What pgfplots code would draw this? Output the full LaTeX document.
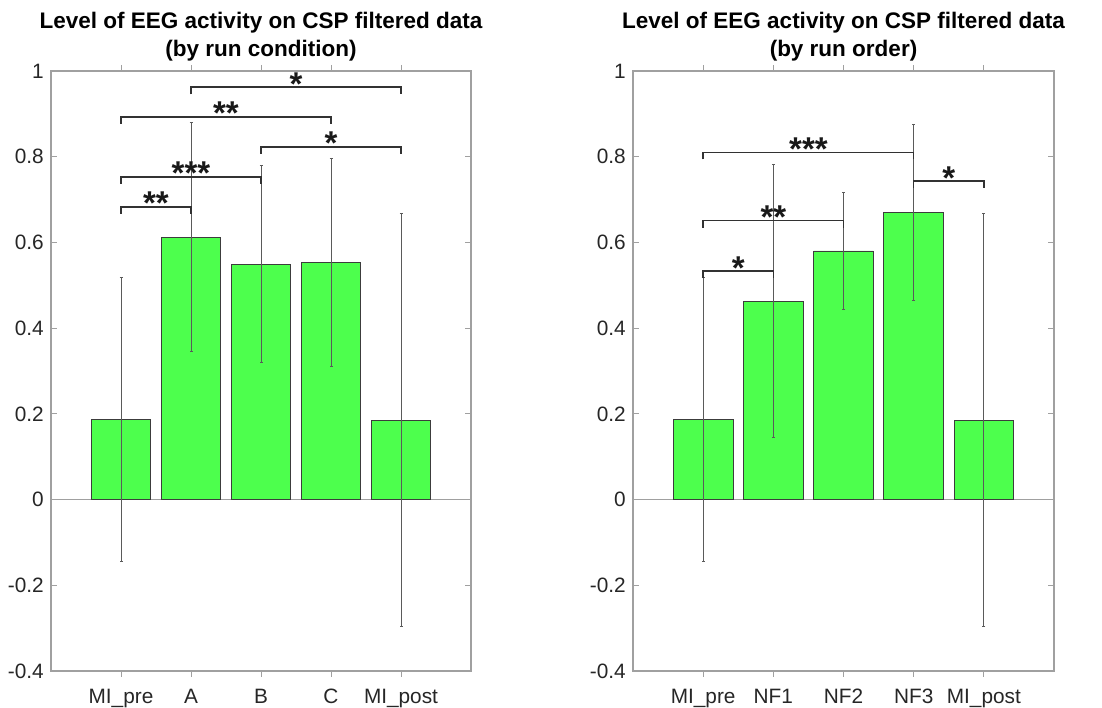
\documentclass[border=0pt]{standalone}
\usepackage{fontspec}
\setmainfont{Liberation Sans}
\usepackage{pgfplots}
\pgfplotsset{compat=1.18}
\definecolor{barg}{RGB}{77,255,77}
\definecolor{axg}{RGB}{160,160,160}
\definecolor{edg}{RGB}{60,60,60}
\definecolor{errg}{RGB}{90,90,90}
\definecolor{brk}{RGB}{50,50,50}
\pgfplotsset{
  myaxis/.style={
    scale only axis, width=420pt, height=600pt,
    xmin=0, xmax=6, ymin=-0.4, ymax=1,
    clip=false,
    axis line style={axg, line width=1.4pt},
    tick style={axg, line width=1pt},
    major tick length=6pt,
    tick align=inside,
    xtick={1,2,3,4,5},
    ytick={-0.4,-0.2,0,0.2,0.4,0.6,0.8,1},
    yticklabels={-0.4,-0.2,0,0.2,0.4,0.6,0.8,1},
    ticklabel style={font=\fontsize{20.8}{24}\selectfont, text=black!85},
    yticklabel style={inner sep=0pt, xshift=-7pt},
    xticklabel style={inner sep=0pt, yshift=-12pt},
    ybar, bar width=0.85, bar shift=0pt,
  },
  mybar/.style={fill=barg, draw=edg, line width=0.8pt,
    error bars/.cd, y dir=both, y explicit,
    error bar style={errg, line width=0.9pt},
    error mark options={rotate=90, mark size=1.5pt, errg, line width=0.8pt}},
}
\newcommand{\sigbrack}[3]{%
  \draw[brk, line width=1.6pt] ([yshift=-7pt]axis cs:#1,#3) -- (axis cs:#1,#3) -- (axis cs:#2,#3) -- ([yshift=-7pt]axis cs:#2,#3);}
\newcommand{\sigstars}[3]{%
  \node[anchor=base, inner sep=0pt, yshift=-8pt, font=\fontsize{33}{33}\selectfont\bfseries, text=black!90] at (axis cs:#1,#2) {#3};}
\newcommand{\ttl}{\fontsize{22.5}{24}\selectfont\bfseries}
\begin{document}
\begin{tikzpicture}
\path (0,0) rectangle (1102pt,704pt);
% left
\begin{axis}[myaxis, name=L, at={(51pt,33pt)}, anchor=south west,
  xticklabels={MI\_pre, A, B, C, MI\_post}]
\draw[axg, line width=1pt] (axis cs:0,0) -- (axis cs:6,0);
\addplot[mybar] coordinates {
  (1,0.187) +- (0,0.331)
  (2,0.612) +- (0,0.267)
  (3,0.549) +- (0,0.230)
  (4,0.554) +- (0,0.243)
  (5,0.185) +- (0,0.482)
};
\sigbrack{1}{2}{0.683}\sigstars{1.5}{0.683}{**}
\sigbrack{1}{3}{0.753}\sigstars{2}{0.753}{***}
\sigbrack{1}{4}{0.893}\sigstars{2.5}{0.893}{**}
\sigbrack{2}{5}{0.962}\sigstars{3.5}{0.962}{*}
\sigbrack{3}{5}{0.823}\sigstars{4}{0.823}{*}
\end{axis}
\node[anchor=base, inner sep=0pt, font=\ttl] at ([yshift=42.7pt]L.north) {Level of EEG activity on CSP filtered data};
\node[anchor=base, inner sep=0pt, font=\ttl] at ([yshift=14pt]L.north) {(by run condition)};
% right
\begin{axis}[myaxis, name=R, at={(633pt,33pt)}, anchor=south west, width=421pt,
  xticklabels={MI\_pre, NF1, NF2, NF3, MI\_post}]
\draw[axg, line width=1pt] (axis cs:0,0) -- (axis cs:6,0);
\addplot[mybar] coordinates {
  (1,0.187) +- (0,0.331)
  (2,0.463) +- (0,0.318)
  (3,0.580) +- (0,0.136)
  (4,0.670) +- (0,0.206)
  (5,0.185) +- (0,0.482)
};
\sigbrack{1}{2}{0.533}\sigstars{1.5}{0.533}{*}
\sigbrack{1}{3}{0.651}\sigstars{2}{0.651}{**}
\sigbrack{1}{4}{0.810}\sigstars{2.5}{0.810}{***}
\sigbrack{4}{5}{0.743}\sigstars{4.5}{0.743}{*}
\end{axis}
\node[anchor=base, inner sep=0pt, font=\ttl] at ([yshift=42.7pt]R.north) {Level of EEG activity on CSP filtered data};
\node[anchor=base, inner sep=0pt, font=\ttl] at ([yshift=14pt]R.north) {(by run order)};
\end{tikzpicture}
\end{document}
